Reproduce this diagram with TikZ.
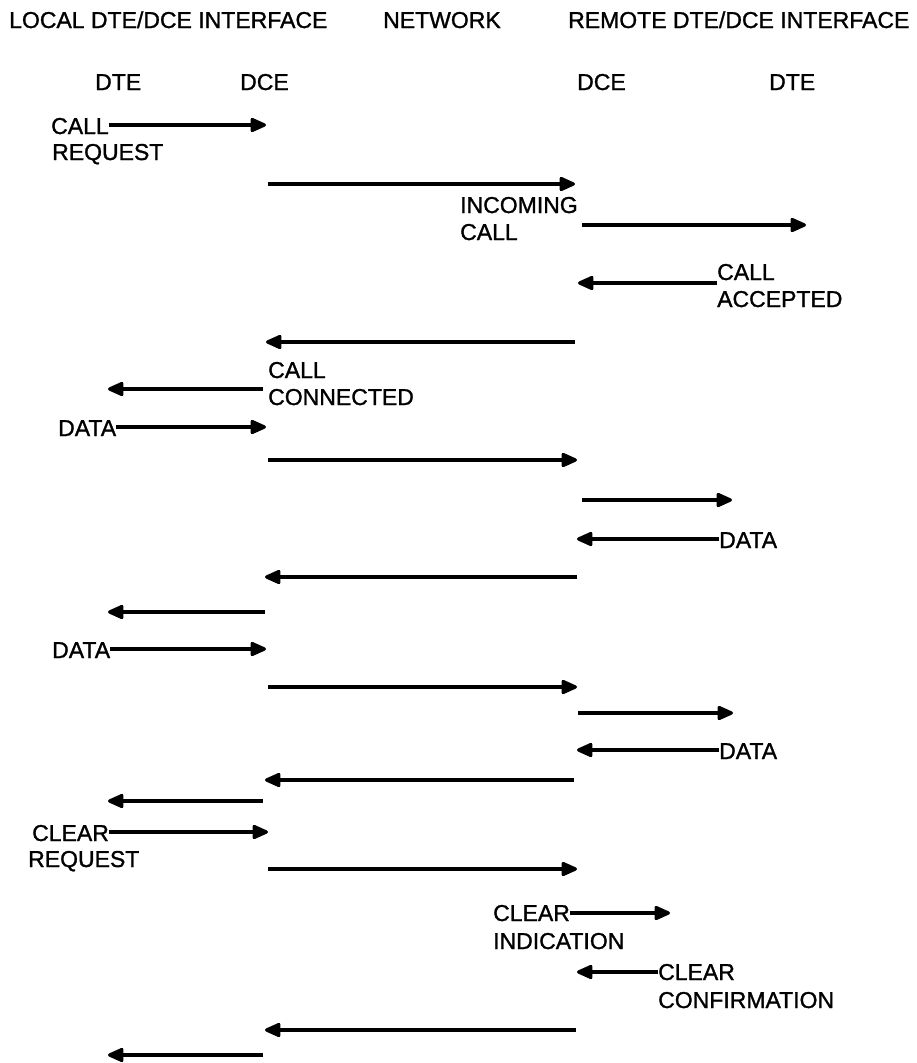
\documentclass[tikz,border=0pt]{standalone}
\usepackage{fontspec}
\setmainfont{Liberation Sans}
\newfontfamily\lblfont{Liberation Sans}[FakeBold=1.2]
\usetikzlibrary{arrows.meta}
\begin{document}
\begin{tikzpicture}[x=1pt,y=-1pt,
  lbl/.style={anchor=base west,inner sep=0pt,font=\lblfont\fontsize{23}{27}\selectfont},
  msg/.style={line width=3.2pt,-{Triangle[length=18pt,width=15pt,round]}},
  every node/.style={text=black}]
\useasboundingbox (0,0) rectangle (917,1063);
% headings
\node[lbl] (hl) at (9,28) {LOCAL DTE/DCE INTERFACE};
\node[lbl] (hn) at (383,28) {NETWORK};
\node[lbl] (hr) at (568,28) {REMOTE DTE/DCE INTERFACE};
\node[lbl] (dte1) at (95,90) {DTE};
\node[lbl] (dce1) at (240,90) {DCE};
\node[lbl] (dce2) at (577,90) {DCE};
\node[lbl] (dte2) at (769,90) {DTE};
% 1
\node[lbl] (cr1) at (51,134) {CALL};
\node[lbl] (cr2) at (52,160) {REQUEST};
\coordinate (e1) at (266,125);
\draw[msg] (cr1.east |- e1) -- (e1);
% 2
\draw[msg] (268,184) coordinate (s2) -- (575,184) coordinate (e2);
\node[lbl] (ic1) at (460,213) {INCOMING};
\node[lbl] (ic2) at (460,240) {CALL};
% 3
\draw[msg] (582,225) coordinate (s3) -- (806,225) coordinate (e3);
% 4
\node[lbl] (ca1) at (717,280) {CALL};
\node[lbl] (ca2) at (717,307) {ACCEPTED};
\draw[msg] (717,283) coordinate (s4) -- (578,283) coordinate (e4);
% 5
\draw[msg] (575,342) coordinate (s5) -- (266,342) coordinate (e5);
\node[lbl] (cc1) at (268,378) {CALL};
\node[lbl] (cc2) at (268,405) {CONNECTED};
% 6
\draw[msg] (263,389) coordinate (s6) -- (108,389) coordinate (e6);
% 7
\node[lbl] (d1) at (58,436) {DATA};
\coordinate (e7) at (266,427);
\draw[msg] (d1.east |- e7) -- (e7);
% 8
\draw[msg] (268,460) coordinate (s8) -- (577,460) coordinate (e8);
% 9
\draw[msg] (582,500) coordinate (s9) -- (732,500) coordinate (e9);
% 10
\node[lbl] (d2) at (719,548) {DATA};
\coordinate (e10) at (577,539);
\draw[msg] (d2.west |- e10) -- (e10);
% 11
\draw[msg] (577,577) coordinate (s11) -- (265,577) coordinate (e11);
% 12
\draw[msg] (265,612) coordinate (s12) -- (108,612) coordinate (e12);
% 13
\node[lbl] (d3) at (52,658) {DATA};
\coordinate (e13) at (266,649);
\draw[msg] (d3.east |- e13) -- (e13);
% 14
\draw[msg] (268,687) coordinate (s14) -- (577,687) coordinate (e14);
% 15
\draw[msg] (578,713) coordinate (s15) -- (733,713) coordinate (e15);
% 16
\node[lbl] (d4) at (719,759) {DATA};
\coordinate (e16) at (577,750);
\draw[msg] (d4.west |- e16) -- (e16);
% 17
\draw[msg] (574,780) coordinate (s17) -- (265,780) coordinate (e17);
% 18
\draw[msg] (263,801) coordinate (s18) -- (108,801) coordinate (e18);
% 19
\node[lbl] (cl1) at (32,841) {CLEAR};
\node[lbl] (cl2) at (28,867) {REQUEST};
\coordinate (e19) at (268,832);
\draw[msg] (cl1.east |- e19) -- (e19);
% 20
\draw[msg] (268,869) coordinate (s20) -- (577,869) coordinate (e20);
% 21
\node[lbl] (ci1) at (493,921) {CLEAR};
\node[lbl] (ci2) at (493,949) {INDICATION};
\coordinate (e21) at (670,913);
\draw[msg] (ci1.east |- e21) -- (e21);
% 22
\node[lbl] (cf1) at (658,980) {CLEAR};
\node[lbl] (cf2) at (658,1008) {CONFIRMATION};
\coordinate (e22) at (577,972);
\draw[msg] (cf1.west |- e22) -- (e22);
% 23
\draw[msg] (576,1030) coordinate (s23) -- (265,1030) coordinate (e23);
% 24
\draw[msg] (263,1055) coordinate (s24) -- (108,1055) coordinate (e24);
\end{tikzpicture}
\end{document}
